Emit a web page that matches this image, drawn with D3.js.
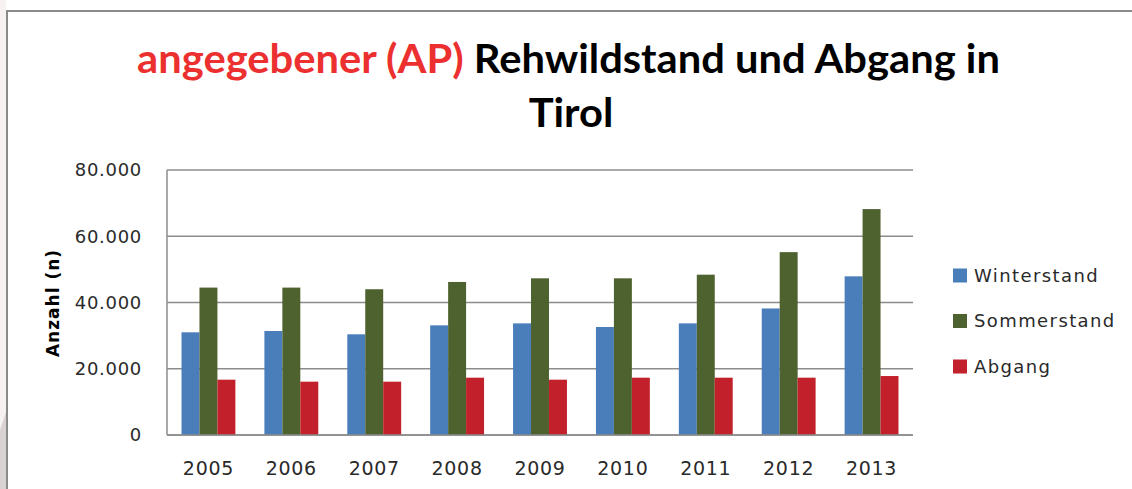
<!DOCTYPE html>
<html>

<head>
    <meta charset="utf-8">
    <style>
        body {
            margin: 0;
            background: #ffffff;
        }

        .tick-label {
            font: 18px "DejaVu Sans", Verdana, sans-serif;
            fill: #2a2a2a;
            letter-spacing: 0.7px;
        }

        .legend text {
            font: 18px "DejaVu Sans", Verdana, sans-serif;
            fill: #2a2a2a;
            letter-spacing: 1.4px;
        }

        .title {
            font: bold 40px Lato, "Open Sans", sans-serif;
            fill: #000000;
        }
    </style>
    <script src="https://d3js.org/d3.v7.min.js"></script>
</head>

<body>
    <svg width="1132" height="489"></svg>
    <script>
        // chart data
        var years = ["2005", "2006", "2007", "2008", "2009", "2010", "2011", "2012", "2013"];
        var seriesNames = ["Winterstand", "Sommerstand", "Abgang"];
        var winterstand = [31000, 31400, 30400, 33100, 33700, 32600, 33700, 38200, 47900];
        var sommerstand = [44500, 44500, 44000, 46200, 47300, 47300, 48400, 55200, 68200];
        var abgang = [16700, 16100, 16100, 17300, 16700, 17300, 17300, 17300, 17800];
        var yTicks = [0, 20000, 40000, 60000, 80000];

        var seriesValues = [winterstand, sommerstand, abgang];
        var colors = ["#4a7ebb", "#4e6230", "#c2202a"];

        var svg = d3.select("svg");

        // page edge / frame
        svg.append("rect")
            .attr("x", 0).attr("y", 0)
            .attr("width", 6).attr("height", 489)
            .attr("fill", "#f7f2f2");
        svg.append("path")
            .attr("d", "M0,430 L6,412 L6,489 L0,489 Z")
            .attr("fill", "#d9d3d3");
        svg.append("path")
            .attr("d", "M7,489 V11 H1132")
            .attr("fill", "none")
            .attr("stroke", "#8a8a8a")
            .attr("stroke-width", 2);

        // title
        var title = svg.append("g");
        var line1 = title.append("text")
            .attr("class", "title")
            .attr("text-anchor", "middle")
            .attr("x", 0).attr("y", 0);
        line1.append("tspan").attr("fill", "#ec3030").text("angegebener (AP) ");
        line1.append("tspan").text("Rehwildstand und Abgang in");
        var w1 = line1.node().getComputedTextLength();
        var sx = 863 / w1;
        line1.attr("transform", "translate(568.5,73) scale(" + sx + ",1)");

        title.append("text")
            .attr("class", "title")
            .attr("text-anchor", "middle")
            .attr("transform", "translate(571,127) scale(" + sx + ",1)")
            .text("Tirol");

        // scales
        var plotLeft = 167, plotRight = 913, plotTop = 170, plotBottom = 435;

        var x0 = d3.scaleBand()
            .domain(years)
            .range([plotLeft, plotRight])
            .paddingInner(0.35)
            .paddingOuter(0.175);

        var x1 = d3.scaleBand()
            .domain(seriesNames)
            .range([0, x0.bandwidth()]);

        var y = d3.scaleLinear()
            .domain([0, 80000])
            .range([plotBottom, plotTop]);

        var fmt = d3.formatLocale({ decimal: ",", thousands: ".", grouping: [3], currency: ["", "€"] }).format(",");

        // gridlines
        svg.append("g")
            .selectAll("line")
            .data(yTicks)
            .enter().append("line")
            .attr("x1", plotLeft)
            .attr("x2", plotRight)
            .attr("y1", function (d) { return y(d); })
            .attr("y2", function (d) { return y(d); })
            .attr("stroke", "#8c8c8c")
            .attr("stroke-width", 1.5);

        // y axis line
        svg.append("line")
            .attr("x1", plotLeft).attr("x2", plotLeft)
            .attr("y1", y(80000)).attr("y2", y(0))
            .attr("stroke", "#8c8c8c")
            .attr("stroke-width", 1.5);

        // y tick labels
        svg.append("g")
            .selectAll("text")
            .data(yTicks)
            .enter().append("text")
            .attr("class", "tick-label")
            .attr("x", 142)
            .attr("y", function (d) { return y(d); })
            .attr("dy", "0.36em")
            .attr("text-anchor", "end")
            .text(function (d) { return fmt(d); });

        // y axis title
        svg.append("text")
            .attr("transform", "translate(53,303) rotate(-90)")
            .attr("text-anchor", "middle")
            .attr("dy", "0.35em")
            .style("font", "bold 17px 'DejaVu Sans', Verdana, sans-serif")
            .style("letter-spacing", "1px")
            .attr("fill", "#000")
            .text("Anzahl (n)");

        // bars
        var groups = svg.append("g")
            .selectAll("g")
            .data(years)
            .enter().append("g")
            .attr("transform", function (d) { return "translate(" + x0(d) + ",0)"; });

        groups.selectAll("rect")
            .data(function (d, i) {
                return seriesNames.map(function (s, k) {
                    return { key: s, value: seriesValues[k][i], k: k };
                });
            })
            .enter().append("rect")
            .attr("x", function (d) { return x1(d.key); })
            .attr("width", x1.bandwidth())
            .attr("y", function (d) { return y(d.value); })
            .attr("height", function (d) { return y(0) - y(d.value); })
            .attr("fill", function (d) { return colors[d.k]; });

        // x axis line on top of bars
        svg.append("line")
            .attr("x1", plotLeft).attr("x2", plotRight)
            .attr("y1", y(0)).attr("y2", y(0))
            .attr("stroke", "#8c8c8c")
            .attr("stroke-width", 1.5);

        // x labels
        svg.append("g")
            .selectAll("text")
            .data(years)
            .enter().append("text")
            .attr("class", "tick-label")
            .attr("x", function (d) { return x0(d) + x0.bandwidth() / 2; })
            .attr("y", 475)
            .attr("text-anchor", "middle")
            .style("font-size", "19px")
            .text(function (d) { return d; });

        // legend
        var legend = svg.append("g")
            .attr("class", "legend")
            .selectAll("g")
            .data(seriesNames)
            .enter().append("g")
            .attr("transform", function (d, i) { return "translate(953," + (275.5 + i * 45.5) + ")"; });

        legend.append("rect")
            .attr("x", 0)
            .attr("y", -7)
            .attr("width", 14)
            .attr("height", 14)
            .attr("fill", function (d, i) { return colors[i]; });

        legend.append("text")
            .attr("x", 21)
            .attr("y", 0)
            .attr("dy", "0.36em")
            .text(function (d) { return d; });
    </script>
</body>

</html>
